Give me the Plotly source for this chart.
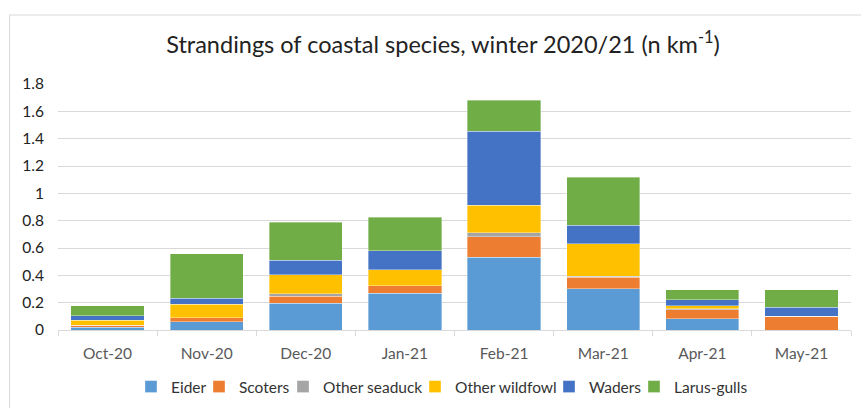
import plotly.graph_objects as go

months = ["Oct-20", "Nov-20", "Dec-20", "Jan-21", "Feb-21", "Mar-21", "Apr-21", "May-21"]
eider = [0.020, 0.062, 0.194, 0.268, 0.532, 0.301, 0.084, 0.0]
scoters = [0.015, 0.029, 0.052, 0.056, 0.150, 0.086, 0.066, 0.099]
other_seaduck = [0.0, 0.0, 0.019, 0.0, 0.029, 0.008, 0.005, 0.0]
other_wildfowl = [0.035, 0.098, 0.139, 0.117, 0.201, 0.237, 0.021, 0.0]
waders = [0.036, 0.044, 0.108, 0.140, 0.544, 0.136, 0.045, 0.066]
larus_gulls = [0.070, 0.326, 0.275, 0.243, 0.224, 0.350, 0.073, 0.129]

series = [
    ("Eider", eider, "#5B9BD5"),
    ("Scoters", scoters, "#ED7D31"),
    ("Other seaduck", other_seaduck, "#A5A5A5"),
    ("Other wildfowl", other_wildfowl, "#FFC000"),
    ("Waders", waders, "#4472C4"),
    ("Larus-gulls", larus_gulls, "#70AD47"),
]
# pixel x where each legend entry's text begins in the reference layout
legend_text_px = [164, 232, 316, 448, 582, 667]

FONT = "Lato"
W, H = 861, 408
ml, mr, mt, mb = 58, 10, 84, 78
pw, ph = W - ml - mr, H - mt - mb

fig = go.Figure()
layout_legends = {}
for i, (name, vals, col) in enumerate(series):
    key = "legend" if i == 0 else f"legend{i + 1}"
    fig.add_trace(go.Bar(x=months, y=vals, name=name, legend=key,
                         marker=dict(color=col, line=dict(color="rgba(255,255,255,0.6)", width=0.6))))
    lx = (legend_text_px[i] - 33 - ml) / pw
    layout_legends[key] = dict(x=lx, xanchor="left", y=-57 / ph, yanchor="middle",
                               orientation="h", itemwidth=30, bgcolor="rgba(0,0,0,0)",
                               font=dict(family=FONT, size=15.5, color="#333333"))

fig.update_layout(
    width=W, height=H,
    barmode="stack", bargap=0.26,
    margin=dict(l=ml, r=mr, t=mt, b=mb, autoexpand=False),
    paper_bgcolor="white", plot_bgcolor="white",
    font=dict(family=FONT, color="#595959", size=15),
    title=dict(text="Strandings of coastal species, winter 2020/21 (n km<sup>-1</sup>)",
               x=443 / W, xanchor="center", y=1 - 45 / H, yanchor="middle",
               font=dict(family=FONT, size=23.5, color="#222222")),
    showlegend=True,
    **layout_legends,
)
fig.update_xaxes(showgrid=False, showline=True, linecolor="#d9d9d9", linewidth=1,
                 ticks="outside", tickson="boundaries", tickcolor="#d9d9d9", ticklen=5,
                 ticklabelstandoff=9, automargin=False,
                 tickfont=dict(family=FONT, size=15.5, color="#595959"))
fig.update_yaxes(range=[0, 1.8], dtick=0.2, tickformat="~g", showgrid=True, gridcolor="#d9d9d9",
                 gridwidth=1, zeroline=False, showline=False, ticks="",
                 ticklabelstandoff=13, automargin=False,
                 tickfont=dict(family=FONT, size=15.5, color="#222222"))

# chart-area border (top and left edges visible in the reference)
x_left = (9.5 - ml) / pw
y_top = (H - 15 - mb) / ph
fig.add_shape(type="line", xref="paper", yref="paper", x0=x_left, x1=(W - ml) / pw,
              y0=y_top, y1=y_top, line=dict(color="#d9d9d9", width=1))
fig.add_shape(type="line", xref="paper", yref="paper", x0=x_left, x1=x_left,
              y0=y_top, y1=-mb / ph, line=dict(color="#d9d9d9", width=1))

fig.write_html("out.html")
